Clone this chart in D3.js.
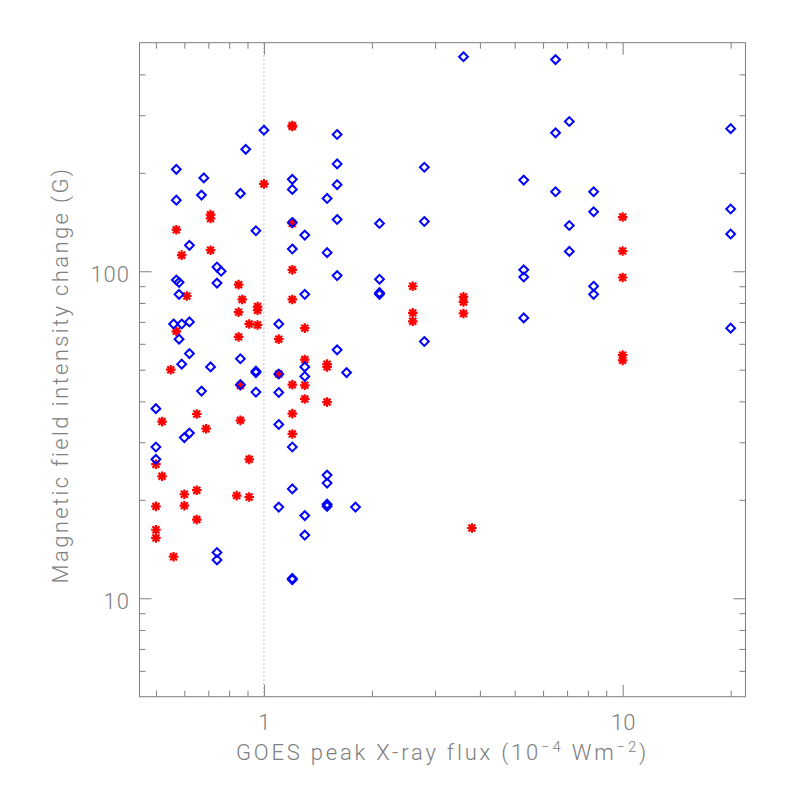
<!DOCTYPE html>
<html><head><meta charset="utf-8">
<script src="https://cdn.jsdelivr.net/npm/d3@7/dist/d3.min.js"></script>
<style>
html,body{margin:0;padding:0;background:#fff;}
svg text{font-family:Roboto,"DejaVu Sans",sans-serif;font-weight:300;fill:#808080;}
</style></head>
<body>
<svg id="chart" width="786" height="786"></svg>
<script>
// Blue diamonds: GOES flux (1e-4 W m^-2) and field change (G)
const blueFlux = [1.0,0.89,1.6,0.57,0.68,0.57,0.67,0.86,1.2,1.2,1.6,1.6,1.5,1.6,1.2,0.95,1.3,0.62,1.2,1.5,
  0.74,0.76,0.57,0.58,1.6,0.74,0.58,1.3,0.56,0.59,0.62,0.58,1.1,0.62,0.59,0.71,0.86,0.95,0.95,1.1,
  1.3,1.3,1.6,1.7,0.67,0.86,0.95,1.1,0.50,1.1,0.60,0.62,1.2,0.50,0.50,1.5,1.5,1.2,1.1,1.5,
  1.5,1.8,1.3,1.3,0.74,0.74,1.2,1.2,3.6,6.5,7.1,6.5,2.8,5.3,6.5,2.1,2.8,7.1,7.1,5.3,
  5.3,2.1,2.1,2.1,5.3,2.8,20,8.3,8.3,20,20,8.3,8.3,20];
const blueField = [270,236,262,205,193,165,171,173,191,178,213,184,167,144,141,133,129,120,117,114,
  103,100,94,92.5,97,92,85,85,69,69,70,62,69,56,52,51,54,49.5,49,48.5,
  51,47.7,57.5,49,43,45,42.7,42.6,38,34,31,32,29,29,26.6,23.8,22.5,21.6,19,19.4,
  19.1,19,17.9,15.6,13.8,13.1,11.4,11.5,453,444,287,265,208,190,175,140,142,138,115,101,
  96,94.5,85,86,72,61,273,175,152,155,130,90,85,67];
// Red asterisks
const redFlux = [1.2,1.2,1.0,0.71,0.71,0.57,1.2,0.59,0.71,1.2,0.85,0.61,0.87,1.2,0.96,0.96,0.85,0.91,0.96,0.57,
  0.85,1.1,1.3,1.3,1.5,1.5,0.55,1.1,1.2,1.3,0.86,1.3,1.5,0.52,0.65,0.69,0.86,1.2,1.2,0.91,
  0.50,0.52,0.65,0.60,0.84,0.91,0.50,0.60,0.65,0.50,0.50,0.56,2.6,2.6,2.6,3.6,3.6,3.6,3.8,10,
  10,10,10,10];
const redField = [279,277,185,149,145,134,140,112,116,101,91,84,82,82,78,76,75,69,68.5,65.5,
  63,62,67,53.7,52,51,50,48.5,45,44.8,44.7,40.7,39.8,34.7,36.6,33,35,36.7,31.8,26.6,
  25.7,23.6,21.4,20.8,20.6,20.4,19.1,19.2,17.4,16.2,15.3,13.4,90,74.6,70.3,83.5,80.6,74.3,16.4,146.5,
  115.3,95.7,55.4,53.4];
// Axes
const xDomain = [0.45, 22];
const yDomain = [5, 500];
const xMajor = [1, 10];
const xMinor = [0.5,0.6,0.7,0.8,0.9,2,3,4,5,6,7,8,9,20];
const yMajor = [10, 100];
const yMinor = [6,7,8,9,20,30,40,50,60,70,80,90,200,300,400];
const xTitle = "GOES peak X-ray flux (10";
const yTitle = "Magnetic field intensity change (G)";

const L = 139.5, R = 745.5, T = 42.7, B = 696.7;
const svg = d3.select("#chart");
const x = d3.scaleLog().domain(xDomain).range([L, R]);
const y = d3.scaleLog().domain(yDomain).range([B, T]);
const axisColor = "#7f7f7f";
const fmt = d => String(d);

function styleAxis(g){
  g.select(".domain").remove();
  g.selectAll("line").attr("stroke", axisColor).attr("stroke-width", 1);
}
// bottom
svg.append("g").attr("transform",`translate(0,${B})`)
  .call(d3.axisBottom(x).tickValues(xMajor).tickSize(-12).tickFormat(fmt))
  .call(styleAxis)
  .call(g=>g.selectAll("text").attr("y",33.5).attr("dy",0).attr("font-size",22).attr("fill",axisColor));
svg.append("g").attr("transform",`translate(0,${B})`)
  .call(d3.axisBottom(x).tickValues(xMinor).tickSize(-6).tickFormat(""))
  .call(styleAxis);
// top
svg.append("g").attr("transform",`translate(0,${T})`)
  .call(d3.axisTop(x).tickValues(xMajor).tickSize(-12).tickFormat(""))
  .call(styleAxis);
svg.append("g").attr("transform",`translate(0,${T})`)
  .call(d3.axisTop(x).tickValues(xMinor).tickSize(-6).tickFormat(""))
  .call(styleAxis);
// left
svg.append("g").attr("transform",`translate(${L},0)`)
  .call(d3.axisLeft(y).tickValues(yMajor).tickSize(-12).tickFormat(fmt))
  .call(styleAxis)
  .call(g=>g.selectAll("text").attr("x",-9.5).attr("dy","0.45em").attr("font-size",22)
    .attr("letter-spacing",1).attr("fill",axisColor));
svg.append("g").attr("transform",`translate(${L},0)`)
  .call(d3.axisLeft(y).tickValues(yMinor).tickSize(-6).tickFormat(""))
  .call(styleAxis);
// right
svg.append("g").attr("transform",`translate(${R},0)`)
  .call(d3.axisRight(y).tickValues(yMajor).tickSize(-12).tickFormat(""))
  .call(styleAxis);
svg.append("g").attr("transform",`translate(${R},0)`)
  .call(d3.axisRight(y).tickValues(yMinor).tickSize(-6).tickFormat(""))
  .call(styleAxis);
// frame
svg.append("rect").attr("x",L).attr("y",T).attr("width",R-L).attr("height",B-T)
  .attr("fill","none").attr("stroke",axisColor).attr("stroke-width",1);
// dotted line at 1
svg.append("line").attr("x1",x(1)).attr("x2",x(1)).attr("y1",B).attr("y2",T)
  .attr("stroke","#8a8a8a").attr("stroke-width",1).attr("stroke-dasharray","1,3");

// points
const blue = blueFlux.map((f,i)=>({f, v: blueField[i]}));
const red = redFlux.map((f,i)=>({f, v: redField[i]}));
const r = 4.4;
svg.append("g").selectAll("path").data(red).join("path")
  .attr("transform", d=>`translate(${x(d.f)},${y(d.v)})`)
  .attr("d", ()=>{const s=4.8, q=s*0.72; return `M${-s},0L${s},0M0,${-s}L0,${s}M${-q},${-q}L${q},${q}M${-q},${q}L${q},${-q}`;})
  .attr("stroke","#ff0000").attr("stroke-width",2.2).attr("fill","none");
svg.append("g").selectAll("path").data(blue).join("path")
  .attr("transform", d=>`translate(${x(d.f)},${y(d.v)})`)
  .attr("d", `M0,${-r}L${r},0L0,${r}L${-r},0Z`)
  .attr("stroke","#0000ff").attr("stroke-width",2).attr("fill","none");

// titles, spread to the reference widths
function spread(sel, target){
  const node = sel.node();
  const len = node.getComputedTextLength();
  const n = node.textContent.length;
  if (n > 1) sel.attr("letter-spacing", (target - len) / (n - 1));
}
const xt = svg.append("text").attr("x",(L+R)/2).attr("y",760).attr("text-anchor","middle").attr("font-size",22);
xt.append("tspan").text(xTitle);
xt.append("tspan").attr("dy",-8).attr("font-size",15).text("\u22124");
xt.append("tspan").attr("dy",8).text(" Wm");
xt.append("tspan").attr("dy",-8).attr("font-size",15).text("\u22122");
xt.append("tspan").attr("dy",8).text(")");
spread(xt, 410);
const yt = svg.append("text").attr("transform",`translate(68,375) rotate(-90)`).attr("text-anchor","middle")
  .attr("font-size",22).text(yTitle);
spread(yt, 414);
</script>
</body></html>
